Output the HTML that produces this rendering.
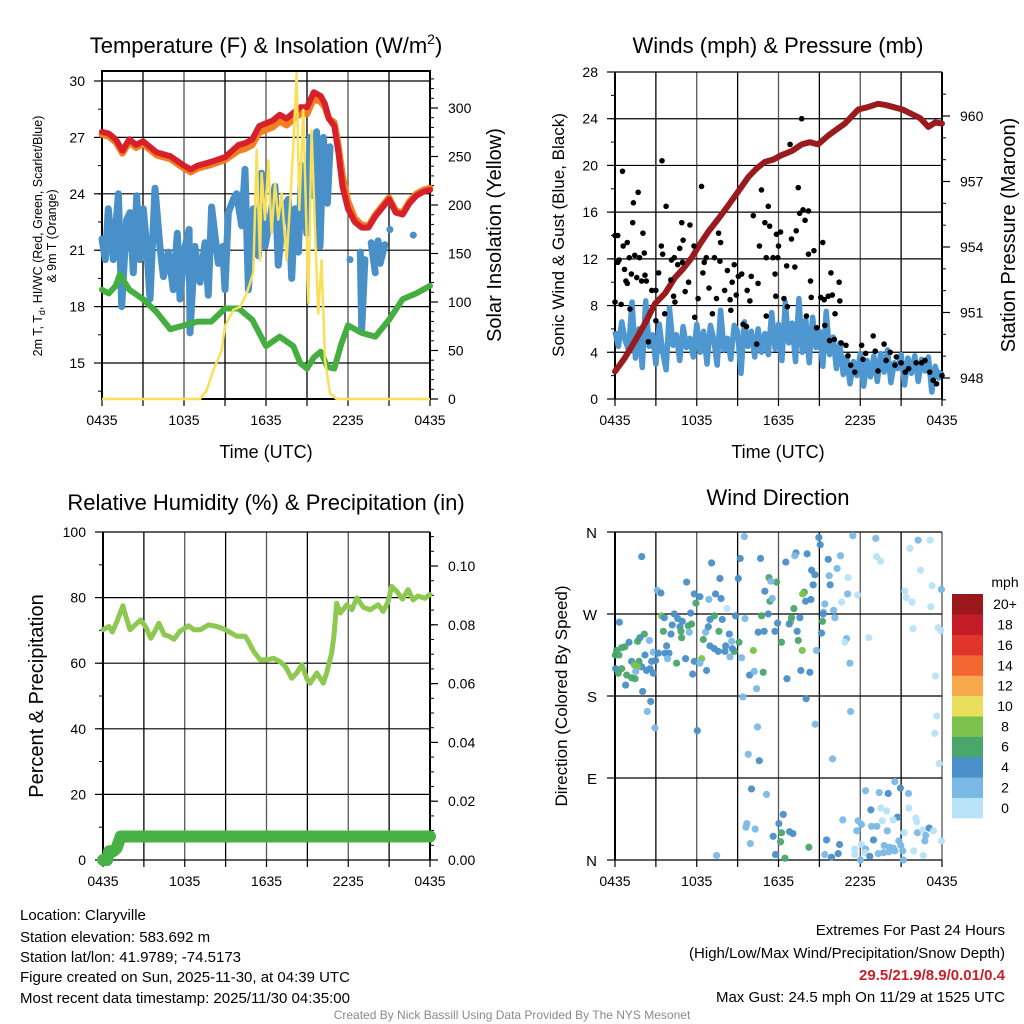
<!DOCTYPE html>
<html><head><meta charset="utf-8">
<style>
html,body{margin:0;padding:0;background:#fff;}
svg{display:block;font-family:"Liberation Sans",Arial,sans-serif;}
</style></head>
<body>
<svg id="fig" xmlns="http://www.w3.org/2000/svg" width="1024" height="1024" viewBox="0 0 1024 1024">
<rect x="0" y="0" width="1024" height="1024" fill="#fff"/>
<g id="static" font-size="15" fill="#000">
 <text x="266" y="53" font-size="22" text-anchor="middle">Temperature (F) &amp; Insolation (W/m<tspan font-size="14" dy="-9">2</tspan><tspan dy="9">)</tspan></text>
 <text x="778" y="53" font-size="22" text-anchor="middle">Winds (mph) &amp; Pressure (mb)</text>
 <text x="266" y="510" font-size="22" text-anchor="middle">Relative Humidity (%) &amp; Precipitation (in)</text>
 <text x="778" y="505" font-size="22" text-anchor="middle">Wind Direction</text>

 <text x="266" y="458" font-size="18" text-anchor="middle">Time (UTC)</text>
 <text x="778" y="458" font-size="18" text-anchor="middle">Time (UTC)</text>

 <g font-size="12.5" text-anchor="middle">
  <text transform="translate(42,236) rotate(-90)">2m T, T<tspan font-size="9" dy="3">d</tspan><tspan dy="-3">, HI/WC (Red, Green, Scarlet/Blue)</tspan></text>
  <text transform="translate(56,236) rotate(-90)">&amp; 9m T (Orange)</text>
 </g>
 <text font-size="20" text-anchor="middle" transform="translate(501,235) rotate(-90)">Solar Insolation (Yellow)</text>
 <text font-size="17" text-anchor="middle" transform="translate(564,235) rotate(-90)">Sonic Wind &amp; Gust (Blue, Black)</text>
 <text font-size="20" text-anchor="middle" transform="translate(1015,235) rotate(-90)">Station Pressure (Maroon)</text>
 <text font-size="20" text-anchor="middle" transform="translate(43,696) rotate(-90)">Percent &amp; Precipitation</text>
 <text font-size="17" text-anchor="middle" transform="translate(567,696) rotate(-90)">Direction (Colored By Speed)</text>

 <g font-size="15">
  <text x="20" y="920">Location: Claryville</text>
  <text x="20" y="942">Station elevation: 583.692 m</text>
  <text x="20" y="962">Station lat/lon: 41.9789; -74.5173</text>
  <text x="20" y="982">Figure created on Sun, 2025-11-30, at 04:39 UTC</text>
  <text x="20" y="1003">Most recent data timestamp: 2025/11/30 04:35:00</text>
 </g>
 <g font-size="15" text-anchor="end">
  <text x="1005" y="935">Extremes For Past 24 Hours</text>
  <text x="1005" y="958">(High/Low/Max Wind/Precipitation/Snow Depth)</text>
  <text x="1005" y="980" fill="#c8202a" font-weight="bold">29.5/21.9/8.9/0.01/0.4</text>
  <text x="1005" y="1002">Max Gust: 24.5 mph On 11/29 at 1525 UTC</text>
 </g>
 <text x="512" y="1019" font-size="12" fill="#8a8a8a" text-anchor="middle">Created By Nick Bassill Using Data Provided By The NYS Mesonet</text>
</g>
<g id="dyn"></g>
</svg>
<script>
// ---------- Data ----------
const xTickLabels = ["0435","1035","1635","2235","0435"];
const tempTicks = [15,18,21,24,27,30];
const solarTicks = [0,50,100,150,200,250,300];
const windTicks = [0,4,8,12,16,20,24,28];
const presTicks = [948,951,954,957,960];
const rhTicks = [0,20,40,60,80,100];
const precipTicks = [0,0.02,0.04,0.06,0.08,0.10];
const dirTicks = [0,90,180,270,360];
const dirLabels = ["N","E","S","W","N"];

const redHours = [0,0.5,1,1.5,2,2.5,3,3.5,4,5,6,6.5,7,8,9,10,10.5,11,11.5,12,12.5,13,13.5,14,14.5,15,15.5,16,16.3,16.6,17,17.3,17.6,18,18.5,19,19.5,20,20.5,21,21.5,22,22.5,23,23.5,24];
const redTemps = [27.3,27.2,26.9,26.3,26.9,26.6,26.8,26.5,26.2,26.0,25.5,25.3,25.5,25.7,25.95,26.6,26.7,26.9,27.6,27.75,27.9,28.2,28.0,28.3,28.6,28.6,29.4,29.2,28.8,28.0,27.6,26.2,24.4,23.2,22.5,22.2,22.2,22.8,23.25,23.7,23.0,22.9,23.5,23.9,24.1,24.2];
const orangeTemps = [27.15,27.05,26.75,26.15,26.75,26.45,26.65,26.35,26.05,25.85,25.35,25.15,25.35,25.55,25.8,26.3,26.4,26.6,27.25,27.4,27.55,27.85,27.65,27.95,28.25,28.25,29.05,28.9,28.6,28.0,27.8,26.6,25.0,23.6,22.7,22.35,22.3,22.9,23.35,23.8,23.1,23.0,23.6,24.0,24.2,24.3];
const dewHours = [0,0.5,1,1.3,2,3,4,5,6,7,8,9,10,11,12,13,14,14.5,15,15.5,16,16.5,17,17.5,18,19,20,21,22,23,24];
const dewTemps = [18.9,18.7,19.1,19.7,18.9,18.4,17.7,16.8,17.0,17.2,17.2,17.9,17.9,17.3,15.9,16.4,15.9,15.0,14.7,15.3,15.6,14.8,14.7,16.0,17.0,16.6,16.4,17.3,18.4,18.7,19.1];
const blueHours = [0,0.24,0.46,0.83,1.2,1.44,1.8,2.05,2.29,2.54,2.78,3.02,3.27,3.51,3.88,4.24,4.49,4.85,5.22,5.51,5.71,6.07,6.37,6.44,6.8,7.17,7.54,7.78,8.02,8.51,8.83,9.0,9.24,9.61,9.85,10.22,10.46,10.71,11.07,11.44,11.68,11.93,12.29,12.66,12.9,13.27,13.63,13.88,14.12,14.37,14.61,14.98,15.22,15.46,15.7,15.95,16.2,16.49,16.68,null,18.15,null,18.9,19.0,19.24,null,19.7,20.0,null,20.2,20.35,20.7,null,21.07,null,22.78];
const blueTemps = [21.6,20.5,23.2,20.5,24.0,18.0,22.6,23.0,19.8,23.9,20.5,23.2,21.2,18.4,24.3,21.2,19.6,20.9,18.9,21.9,18.4,21.2,22.1,16.6,21.2,19.3,21.4,18.6,23.3,20.3,21.2,18.9,23.0,23.7,24.0,22.3,25.3,18.9,23.2,20.7,25.1,21.2,22.6,24.4,20.2,23.2,23.7,19.5,23.2,20.9,25.5,21.9,27.0,23.9,27.3,21.2,27.0,23.5,26.5,null,20.5,null,20.9,16.8,20.5,null,21.4,19.8,null,21.5,20.3,21.3,null,22.1,null,21.8];
const solarHours = [0,7.17,7.66,8.15,8.76,9.0,9.61,10.1,10.59,11.07,11.32,11.56,11.68,11.93,12.17,12.41,12.66,12.9,13.15,13.51,13.76,14.0,14.24,14.44,14.73,15.1,15.34,15.59,15.83,16.07,16.32,16.68,17.17,24];
const solarVals = [0,0,9,30,50,75,92,95,109,130,257,143,233,185,246,171,222,185,212,143,202,260,336,195,298,99,277,171,88,143,40,6,0,0];

const windVals = [5.8,4.5,6.6,5.0,4.2,8.3,3.5,6.0,2.7,8.4,4.5,5.5,3.0,6.4,4.0,2.5,7.8,4.6,5.5,3.3,6.2,4.4,5.2,3.6,6.4,4.0,5.8,3.0,6.3,5.1,2.9,7.6,4.2,5.2,3.4,6.3,5.8,2.2,6.6,4.5,5.8,3.6,6.0,4.0,5.6,3.8,7.4,4.3,6.4,3.3,8.3,4.8,6.5,3.2,8.6,4.0,6.8,3.1,7.0,4.4,5.8,2.8,7.5,3.8,5.3,2.6,4.8,2.1,3.6,1.3,3.2,2.0,3.9,1.1,3.3,1.9,3.7,1.5,3.9,2.3,4.2,1.4,3.1,2.6,3.8,1.2,3.5,2.2,3.7,1.5,3.4,2.4,3.6,0.6,2.8,1.8,2.4];
const gustHours = [0,0.2,0.2,0.3,0.55,0,0.45,0.7,0.8,0.9,0.6,0.9,1.05,1.2,1.1,1.3,1.35,1.45,1.6,1.7,1.8,1.95,2.05,2.15,2.2,2.3,2.45,2.7,3.0,3.0,3.2,3.4,3.45,3.5,3.65,3.75,4.1,4.15,4.3,4.35,4.4,4.6,4.75,4.9,4.95,5.0,5.15,5.4,5.5,5.8,5.85,6.1,6.35,6.45,6.55,6.7,6.9,7.15,7.3,7.45,7.6,7.75,7.7,8.05,8.25,8.45,8.5,8.6,8.75,8.9,9.05,9.3,9.4,9.65,9.7,9.9,10.0,10.15,10.4,10.5,10.6,10.75,11.0,11.1,11.25,11.35,11.1,11.6,11.75,11.8,11.85,11.95,12.0,12.15,12.4,12.6,12.65,12.85,12.95,13.2,13.3,13.45,13.55,13.7,13.8,13.95,14.2,14.2,14.05,14.35,14.4,14.6,14.8,15.1,15.25,15.35,15.4,15.65,15.85,15.75,15.95,16.1,16.15,16.45,16.5,16.6,16.95,17.1,17.3,17.6,18.1,18.2,18.4,18.95,19.1,19.3,19.75,19.9,20.2,20.55,20.65,21.0,21.3,21.55,22.1,22.5,22.75,23.1,23.35,23.6,24.0];
const gustVals = [14.0,14.0,11.7,11.9,19.5,8.3,8.1,11.1,10.1,9.9,13.1,13.4,12.1,10.7,7.7,15.1,16.8,12.3,10.4,17.7,12.1,10.1,14.2,12.5,10.6,10.1,4.9,9.3,9.3,6.7,10.8,13.1,20.4,12.4,7.3,16.5,10.2,11.9,8.8,12.1,8.3,11.5,12.9,15.1,11.7,13.6,9.2,10.0,14.9,13.1,7.0,8.6,18.2,10.8,11.7,12.1,9.5,7.3,12.1,8.6,14.2,13.4,11.8,9.3,11.0,8.5,7.6,10.0,11.5,8.9,10.5,10.7,6.4,6.2,9.3,8.4,10.5,15.7,4.7,9.9,13.1,17.9,15.1,12.1,16.5,14.8,7.1,12.1,10.7,8.8,14.1,12.1,13.1,14.3,8.6,11.4,7.9,21.8,13.7,11.3,14.4,18.1,15.9,24.0,16.2,15.3,16.1,12.4,7.1,10.1,8.7,12.7,6.1,8.7,13.4,8.5,6.3,8.8,10.8,5.0,8.9,5.1,7.3,10.0,8.4,4.8,4.6,3.7,2.9,2.3,4.6,3.4,3.9,5.4,4.1,2.4,4.7,3.3,4.0,2.9,3.6,3.1,2.3,2.6,3.1,3.1,3.3,2.3,1.6,1.3,2.0];
const presHours = [0,0.7,1.47,2.2,2.93,3.7,4.4,5.0,5.62,6.2,6.85,7.6,8.31,9.0,9.78,10.4,11.0,11.6,12.2,13.0,13.7,14.3,14.9,15.65,16.3,16.87,17.4,17.85,18.5,19.3,19.9,20.5,21.1,21.75,22.4,23.0,23.5,24.0];
const presVals = [948.3,948.9,949.7,950.5,951.4,951.9,952.6,953.0,953.5,954.1,954.7,955.3,955.9,956.5,957.2,957.6,957.9,958.0,958.2,958.4,958.7,958.8,958.7,959.1,959.4,959.65,960.0,960.3,960.4,960.56,960.5,960.4,960.3,960.1,959.9,959.5,959.7,959.65];

const rhHours = [0,0.44,0.68,1.05,1.46,1.66,1.98,2.76,3.15,3.5,3.8,4.1,4.49,4.85,5.22,5.63,6.29,6.66,7.15,7.76,8.37,8.98,9.83,10.44,10.68,11.05,11.54,12.02,12.51,13.0,13.39,13.85,14.22,14.6,14.95,15.2,15.69,16.17,16.41,16.78,16.95,17.15,17.42,17.9,18.27,18.63,19.12,19.61,20.2,20.56,20.93,21.18,21.56,21.98,22.39,22.76,23.12,23.61,24.0];
const rhVals = [70.2,71.2,69.5,73,77.5,74.5,70.2,73.2,71.0,67.6,69.7,72.2,68.7,68.2,67.3,69.7,71.4,70.2,70.2,71.7,71.2,70.2,68.2,68.2,66.6,63.6,61.0,61.0,61.5,60.5,59.0,55.4,57.0,59.5,55.4,53.9,57.0,53.9,57.0,63.0,68.2,78.3,75.3,77.8,76.3,79.9,77.0,76.3,77.8,75.8,78.8,83.4,81.9,79.5,82.4,79.3,80.5,79.8,80.9];
const precipHours = [0,0.3,0.45,0.75,1.0,1.3,24];
const precipVals = [0,0,0.003,0.003,0.004,0.008,0.008];

const dirHours = [1.96,3.1,3.37,5.26,5.82,6.23,5.94,7.09,7.7,7.38,7.78,6.89,8.22,9.49,9.19,9.05,10.68,11.3,11.86,11.44,11.0,11.37,11.54,12.54,13.28,13.2,14.1,14.96,15.06,15.65,16.55,14.43,14.67,14.55,13.89,13.77,13.99,14.38,15.72,15.79,16.3,17.11,17.46,19.14,22.25,23.13,21.64,19.19,19.49,22.42,23.28,21.27,21.39,21.81,23.96,17.07,17.8,16.63,15.4,15.3,16.04,16.14,23.18,0.32,3.42,3.62,4.35,4.6,4.2,4.94,5.55,5.38,5.62,4.77,5.45,3.55,4.11,4.84,4.89,2.15,1.83,1.66,2.52,1.03,0.73,0.49,0.12,0.02,0.29,2.2,2.81,3.18,3.79,3.67,3.96,3.86,2.69,2.98,1.22,1.76,1.96,1.42,1.66,0.05,0.49,0.24,0.86,1.22,1.47,0.78,1.52,2.32,2.57,2.81,4.52,5.18,5.7,5.82,6.36,6.23,6.72,6.65,6.85,6.97,7.29,7.87,7.63,8.39,8.85,9.54,6.48,6.97,7.29,7.58,8.07,8.12,8.56,8.75,8.44,9.1,8.61,9.29,10.15,9.88,10.22,10.39,10.88,9.39,10.51,10.95,10.76,11.25,11.74,11.93,12.22,12.91,12.96,13.13,12.79,13.57,13.37,13.45,13.74,14.79,15.16,15.23,15.28,13.64,14.3,12.62,14.03,2.03,2.62,2.37,2.93,6.04,10.46,14.69,17.24,16.99,16.87,18.63,21.88,23.72,23.91,23.52,17.29,23.62,23.47,23.79,9.78,10.59,15.97,10.02,11.12,12.35,12.03,9.68,9.61,10.29,11.61,12.22,12.81,13.06,12.15,9.93,7.46,11.78,12.47,14.23,15.53,16.48,15.4,16.38,15.89,18.02,18.39,19.39,20.05,20.95,20.54,21.54,18.78,19.51,19.95,19.61,20.73,20.42,21.56,22.08,22.15,17.85,16.72,18.09,17.75,18.83,19.22,19.98,21.22,22.2,22.59,23.06,22.81,23.37,22.74,18.97,19.76,20.15,20.42,20.83,20.98,18.09,17.6,18.39,18.34,17.6,18.7,19.32,19.71,20.1,20.54,21.12,21.93,22.62,21.17,23.96];
const dirDegs = [333,296,293,305,292,289,282,326,309,292,287,286,276,355,331,309,331,310,305,306,295,284,287,327,337,334,336,354,346,330,334,318,313,302,294,292,284,286,312,302,320,310,356,353,351,351,342,333,328,318,301,295,288,283,297,292,291,283,281,272,274,266,278,261,268,266,270,265,258,262,271,257,259,256,250,251,248,251,244,248,244,240,241,239,234,233,230,225,225,225,228,227,235,227,227,221,218,219,218,218,212,214,212,210,210,205,203,200,199,192,207,208,210,205,216,221,204,218,221,216,208,250,256,264,268,264,251,248,268,265,242,235,232,229,229,235,240,229,223,239,232,222,230,203,207,188,206,179,250,251,268,270,251,260,239,262,266,276,259,266,251,241,230,230,249,262,270,208,206,199,177,185,174,163,145,142,146,149,216,243,239,244,254,255,252,202,163,158,139,106,116,109,111,78,72,50,40,40,36,34,26,30,31,29,20,18,5,6,2,14,22,17,6,7,3,0,76,74,73,79,86,73,55,57,54,43,47,44,57,46,42,43,44,39,32,37,37,32,30,30,33,35,27,32,21,22,16,14,13,21,16,17,12,12,8,6,4,7,8,9,10,10,10,5,0,21];
const dirSpeeds = [5,3,5,5,5,5,7,5,5,5,5,3,1,3,5,5,5,7,7,3,5,7,3,5,5,3,5,5,5,5,3,5,5,5,7,9,5,5,3,5,3,1,3,3,3,1,1,1,1,1,1,1,1,1,3,3,1,1,3,3,3,3,1,5,9,5,5,5,5,5,5,7,7,5,3,7,5,7,7,7,5,7,3,5,7,7,7,7,7,5,3,5,5,5,5,3,5,5,5,7,5,9,9,5,7,7,7,7,7,5,3,5,5,5,7,5,5,5,9,3,5,3,5,5,7,5,7,5,5,3,7,5,5,5,5,5,3,7,3,7,5,3,9,5,3,3,7,3,5,5,7,5,5,5,7,9,7,7,5,5,5,7,9,3,5,7,5,5,5,5,5,5,5,3,3,5,3,3,3,3,1,1,1,1,1,1,3,1,1,1,3,5,3,5,3,5,5,3,3,3,5,7,5,5,7,3,3,5,7,7,5,5,3,5,5,3,3,3,5,5,3,3,5,1,1,1,5,1,1,1,1,3,3,3,3,3,3,3,1,3,1,5,3,1,3,5,3,3,3,3,3,1,1,3,1,1,5,3,3,3,3,3,1,1,3,1];

const speedBins = ["0","2","4","6","8","10","12","14","16","18","20+"];
const speedColors = ["#b8e3f8","#7ab9e5","#4a8fc8","#4aa76c","#7cc24c","#e8e05c","#f8a94b","#f26630","#e0352b","#c41d27","#9a181c"];

// ---------- Drawing ----------
const NS = "http://www.w3.org/2000/svg";
const root = document.getElementById('dyn');
function mk(tag, attrs, parent){
  const e = document.createElementNS(NS, tag);
  for (const k in attrs) e.setAttribute(k, attrs[k]);
  (parent||root).appendChild(e);
  return e;
}
function lin(d0,d1,r0,r1){ return v => r0 + (v-d0)*(r1-r0)/(d1-d0); }
function pathFrom(xs, ys, sx, sy){
  let d = "", pen = false;
  for (let i=0;i<xs.length;i++){
    if (xs[i]===null || ys[i]===null){ pen=false; continue; }
    d += (pen?"L":"M") + sx(xs[i]).toFixed(1) + " " + sy(ys[i]).toFixed(1);
    pen = true;
  }
  return d;
}

function frame(name, L, R, T, B, grid){
  const g = mk('g', {});
  
  
  const sx = lin(0,24,L,R);
  for (let h=0; h<=24; h+=3){
    const gl = mk('line',{x1:sx(h),x2:sx(h),y1:T,y2:B,stroke:(h%6===0?'#555':'#000'),'stroke-width':1.3},g);
    
    
  }
  grid.forEach(y=>{
    const gl = mk('line',{x1:L,x2:R,y1:y,y2:y,stroke:'#000','stroke-width':1.2},g);
    
    
  });
  for (let h=0; h<=24; h+=3){
    mk('line',{x1:sx(h),x2:sx(h),y1:B,y2:B+7,stroke:'#000','stroke-width':1.2},g);
  }
  xTickLabels.forEach((t,i)=>{
    const tx = mk('text',{x:sx(i*6),y:B+26,'font-size':14,'text-anchor':'middle'},g);
    tx.textContent = t;
    
    
  });
  return g;
}
function yAxis(g, X, dir, ticks, minor, sy, labels, anchorDx, lo, hi){
  for (let v=lo; v<=hi+1e-9; v+=minor){
    mk('line',{x1:X,x2:X+dir*4,y1:sy(v),y2:sy(v),stroke:'#000','stroke-width':1},g);
  }
  ticks.forEach((v,i)=>{
    mk('line',{x1:X,x2:X+dir*8,y1:sy(v),y2:sy(v),stroke:'#000','stroke-width':1.2},g);
    const tx = mk('text',{x:X+anchorDx,y:sy(v)+5,'font-size':14,'text-anchor':dir<0?'end':'start'},g);
    tx.textContent = labels[i];
    
    
  });
}

// ----- Panel 1: temperature -----
(function(){
  const L=102,R=430,T=71,B=399;
  const sx = lin(0,24,L,R);
  const st = lin(15,30,363,81);
  const ss = lin(0,300,399,108);
  const g = frame('temp-panel',L,R,T,B,tempTicks.map(st).concat([T]));
  yAxis(g,L,-1,tempTicks,1.5,st,tempTicks.map(String),-17,13.5,30);
  yAxis(g,R,1,solarTicks,10,ss,solarTicks.map(String),18,0,330);
  const s1 = mk('path',{d:pathFrom(blueHours,blueTemps,sx,st),fill:'none',stroke:'#4a90c8','stroke-width':7,'stroke-linejoin':'round','stroke-linecap':'round'});
  
  
  const s2 = mk('path',{d:pathFrom(dewHours,dewTemps,sx,st),fill:'none',stroke:'#44ae40','stroke-width':6,'stroke-linejoin':'round','stroke-linecap':'round'});
  
  
  const s3 = mk('path',{d:pathFrom(redHours,orangeTemps,sx,st),fill:'none',stroke:'#f47d20','stroke-width':6.5,'stroke-linejoin':'round','stroke-linecap':'round'});
  
  
  const s4 = mk('path',{d:pathFrom(redHours,redTemps,sx,st),fill:'none',stroke:'#d6202a','stroke-width':6,'stroke-linejoin':'round','stroke-linecap':'round'});
  
  
  const s5 = mk('path',{d:pathFrom(solarHours,solarVals,sx,ss),fill:'none',stroke:'#f8e05a','stroke-width':2.5,'stroke-linejoin':'round'});
  
  
  blueHours.forEach((h,i)=>{
    if (h===null) return;
    const prevN = i===0 || blueHours[i-1]===null, nextN = i===blueHours.length-1 || blueHours[i+1]===null;
    if (prevN && nextN){
      const c = mk('circle',{cx:sx(h),cy:st(blueTemps[i]),r:3.5,fill:'#4a90c8'});
      
      
    }
  });
  mk('rect',{x:L,y:T,width:R-L,height:B-T,fill:'none',stroke:'#000','stroke-width':2},g);
})();

// ----- Panel 2: winds & pressure -----
(function(){
  const L=615,R=942,T=72,B=399;
  const sx = lin(0,24,L,R);
  const sw = lin(0,28,399,72);
  const sp = lin(948,960,378,116);
  const g = frame('wind-panel',L,R,T,B,windTicks.map(sw));
  yAxis(g,L,-1,windTicks,2,sw,windTicks.map(String),-17,0,28);
  yAxis(g,R,1,presTicks,1,sp,presTicks.map(String),18,947,961);
  const wh = windVals.map((v,i)=>i*24/(windVals.length-1));
  const w = mk('path',{d:pathFrom(wh,windVals,sx,sw),fill:'none',stroke:'#4f97d0','stroke-width':5.5,'stroke-linejoin':'round'});
  
  
  const p = mk('path',{d:pathFrom(presHours,presVals,sx,sp),fill:'none',stroke:'#991b1e','stroke-width':6,'stroke-linejoin':'round','stroke-linecap':'round'});
  
  
  gustHours.forEach((h,i)=>{
    const c = mk('circle',{cx:sx(h),cy:sw(gustVals[i]),r:2.8,fill:'#000'});
    
    
  });
  mk('line',{x1:L,x2:L,y1:T,y2:B,stroke:'#000','stroke-width':2},g);
  mk('line',{x1:R,x2:R,y1:T,y2:B,stroke:'#000','stroke-width':2},g);
})();

// ----- Panel 3: RH & precip -----
(function(){
  const L=103,R=430,T=532,B=860;
  const sx = lin(0,24,L,R);
  const sr = lin(0,100,B,T);
  const sp = lin(0,0.10,B,566);
  const g = frame('rh-panel',L,R,T,B,rhTicks.map(sr));
  yAxis(g,L,-1,rhTicks,10,sr,rhTicks.map(String),-17,0,100);
  yAxis(g,R,1,precipTicks,0.005,sp,precipTicks.map(v=>v.toFixed(2)),18,0,0.11);
  const r = mk('path',{d:pathFrom(rhHours,rhVals,sx,sr),fill:'none',stroke:'#8dc850','stroke-width':5,'stroke-linejoin':'round','stroke-linecap':'round'});
  
  
  const pr = mk('path',{d:pathFrom(precipHours,precipVals,sx,sp),fill:'none',stroke:'#46b246','stroke-width':12,'stroke-linejoin':'round','stroke-linecap':'round'});
  
  
  mk('line',{x1:L,x2:L,y1:T,y2:B,stroke:'#000','stroke-width':2},g);
  mk('line',{x1:R,x2:R,y1:T,y2:B,stroke:'#000','stroke-width':2},g);
})();

// ----- Panel 4: wind direction -----
(function(){
  const L=615,R=942,T=532,B=860;
  const sx = lin(0,24,L,R);
  const sd = lin(0,360,B,T);
  const g = frame('direction-panel',L,R,T,B,dirTicks.map(sd));
  dirTicks.forEach((v,i)=>{
    mk('line',{x1:L,x2:L-8,y1:sd(v),y2:sd(v),stroke:'#000','stroke-width':1.2},g);
    const tx = mk('text',{x:L-18,y:sd(v)+6,'font-size':15,'text-anchor':'end'},g);
    tx.textContent = dirLabels[i];
    
    
  });
  mk('line',{x1:L,x2:L,y1:T,y2:B,stroke:'#000','stroke-width':2},g);
  dirHours.forEach((h,i)=>{
    const bin = Math.min(10, Math.floor(dirSpeeds[i]/2));
    const c = mk('circle',{cx:sx(h),cy:sd(dirDegs[i]),r:3.6,fill:speedColors[bin],'fill-opacity':0.95});
    
    
  });
  const cb = mk('g',{});
  
  
  const top=594, bot=818, h=(bot-top)/speedBins.length;
  const t = mk('text',{x:1005,y:587,'font-size':14,'text-anchor':'middle'},cb);
  t.textContent = 'mph';
  speedBins.forEach((lab,i)=>{
    const y = bot - (i+1)*h;
    mk('rect',{x:952,y:y,width:31,height:h+0.3,fill:speedColors[i]},cb);
    const tx = mk('text',{x:1005,y:y+h/2+5,'font-size':14,'text-anchor':'middle'},cb);
    tx.textContent = lab;
    
    
  });
})();
</script>
</body></html>
